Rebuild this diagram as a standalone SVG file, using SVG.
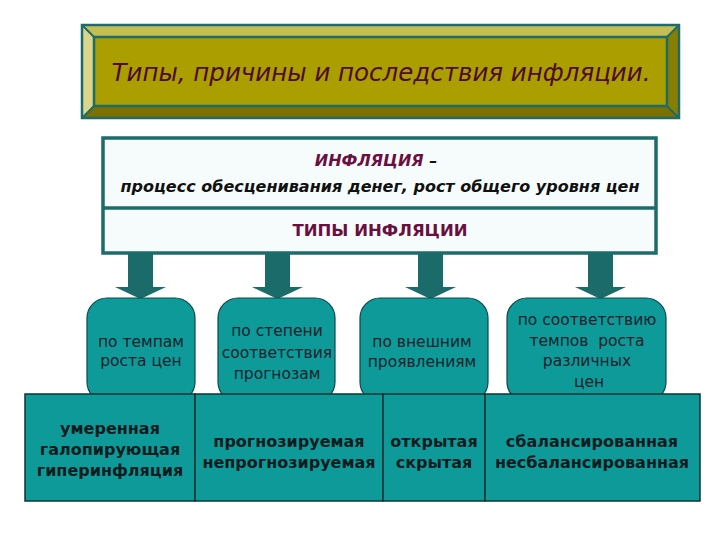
<svg xmlns="http://www.w3.org/2000/svg" width="720" height="540" viewBox="0 0 720 540">
<defs>
<style>
.title{font-family:"DejaVu Sans",Verdana,sans-serif;font-style:italic;font-size:24.5px;fill:#4e0a26;text-anchor:middle}
.def{font-family:"DejaVu Sans",Verdana,sans-serif;font-style:italic;font-weight:bold;font-size:16px;fill:#111;text-anchor:middle}
.mar{fill:#6a1040}
.types{font-family:"DejaVu Sans",Verdana,sans-serif;font-weight:bold;font-size:16.5px;fill:#6a1040;text-anchor:middle}
.nt{font-family:"DejaVu Sans",Verdana,sans-serif;font-size:15.5px;fill:#10222c;text-anchor:middle}
.bt{font-family:"DejaVu Sans",Verdana,sans-serif;font-weight:bold;font-size:16px;fill:#0a1c1e;text-anchor:middle}
.node{fill:#0f9a9a;stroke:#0b4a4a;stroke-width:1.2}
.box{fill:#0f9a9a;stroke:#0b3434;stroke-width:1.5}
.arrow{fill:#1b6b6b}
</style>
</defs>
<rect width="720" height="540" fill="#ffffff"/>

<g id="title">
<polygon points="82,25 679,25 667,37 94,37" fill="#c6be52"/>
<polygon points="82,25 94,37 94,106 82,118" fill="#ddd68a"/>
<polygon points="679,25 679,118 667,106 667,37" fill="#8a7e00"/>
<polygon points="82,118 679,118 667,106 94,106" fill="#7c7000"/>
<rect x="94" y="37" width="573" height="69" fill="#aa9e00" stroke="#1d6b6b" stroke-width="2.5"/>
<g stroke="#1d6b6b" stroke-width="2"><line x1="82" y1="25" x2="94" y2="37"/><line x1="679" y1="25" x2="667" y2="37"/><line x1="82" y1="118" x2="94" y2="106"/><line x1="679" y1="118" x2="667" y2="106"/></g>
<rect x="82" y="25" width="597" height="93" fill="none" stroke="#1d6b6b" stroke-width="2.5"/>
<text class="title" x="381" y="81">Типы, причины и последствия инфляции.</text>
</g>

<g id="definition">
<rect x="103" y="138" width="553" height="115" fill="#f6fcfc" stroke="#1d6b6b" stroke-width="3.5"/>
<line x1="103" y1="208" x2="656" y2="208" stroke="#1d6b6b" stroke-width="3.5"/>
<text class="def" x="376" y="166"><tspan class="mar">ИНФЛЯЦИЯ</tspan> –</text>
<text class="def" x="380" y="192">процесс обесценивания денег, рост общего уровня цен</text>
<text class="types" x="380" y="236">ТИПЫ ИНФЛЯЦИИ</text>
</g>

<g id="connectors">
<polygon class="arrow" points="128,254 153,254 153,287 166,287 140.5,299 115,287 128,287"/>
<polygon class="arrow" points="265,254 290,254 290,287 303,287 277.5,299 252,287 265,287"/>
<polygon class="arrow" points="418,254 443,254 443,287 456,287 430.5,299 405,287 418,287"/>
<polygon class="arrow" points="588,254 613,254 613,287 626,287 600.5,299 575,287 588,287"/>
</g>

<g id="node1">
<rect class="node" x="87" y="298" width="108" height="104" rx="20"/>
<text class="nt" x="141" y="347">по темпам</text>
<text class="nt" x="141" y="366">роста цен</text>
</g>
<g id="node2">
<rect class="node" x="218" y="298" width="117" height="104" rx="20"/>
<text class="nt" x="277" y="336">по степени</text>
<text class="nt" x="277" y="358">соответствия</text>
<text class="nt" x="277" y="379">прогнозам</text>
</g>
<g id="node3">
<rect class="node" x="360" y="298" width="128" height="104" rx="20"/>
<text class="nt" x="422" y="347">по внешним</text>
<text class="nt" x="422" y="367">проявлениям</text>
</g>
<g id="node4">
<rect class="node" x="507" y="298" width="159" height="104" rx="20"/>
<text class="nt" x="587" y="325">по соответствию</text>
<text class="nt" x="587" y="346" xml:space="preserve">темпов  роста</text>
<text class="nt" x="587" y="366">различных</text>
<text class="nt" x="589" y="387">цен</text>
</g>

<g id="box1">
<rect class="box" x="25" y="394" width="170" height="107"/>
<text class="bt" x="110" y="434">умеренная</text>
<text class="bt" x="110" y="455">галопирующая</text>
<text class="bt" x="110" y="476">гиперинфляция</text>
</g>
<g id="box2">
<rect class="box" x="195" y="394" width="188" height="107"/>
<text class="bt" x="289" y="447">прогнозируемая</text>
<text class="bt" x="289" y="468">непрогнозируемая</text>
</g>
<g id="box3">
<rect class="box" x="383" y="394" width="102" height="107"/>
<text class="bt" x="434" y="447">открытая</text>
<text class="bt" x="434" y="468">скрытая</text>
</g>
<g id="box4">
<rect class="box" x="485" y="394" width="215" height="107"/>
<text class="bt" x="592" y="447">сбалансированная</text>
<text class="bt" x="592" y="468">несбалансированная</text>
</g>
</svg>
